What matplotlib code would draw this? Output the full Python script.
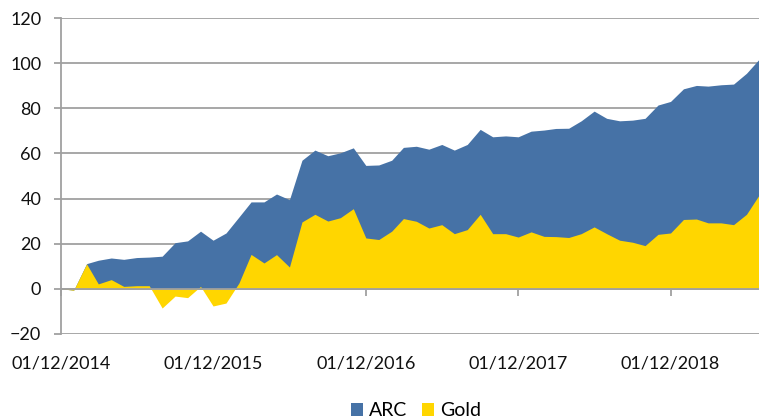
import matplotlib
matplotlib.use('Agg')
import matplotlib.pyplot as plt
import pandas as pd

# monthly series, Dec 2014 .. Jul 2019
months = pd.date_range('2014-12-01', periods=56, freq='MS')
arc = [0, -0.7, 11.1, 12.6, 13.6, 13.0, 13.8, 14.0, 14.4, 20.4, 21.2, 25.5,
       21.5, 24.7, 31.8, 38.5, 38.5, 42.0, 39.5, 57.0, 61.5, 59.0, 60.3, 62.5,
       54.7, 54.9, 57.0, 62.7, 63.2, 61.9, 64.0, 61.5, 64.0, 70.7, 67.4, 67.8,
       67.4, 69.9, 70.4, 71.1, 71.2, 74.5, 78.8, 75.6, 74.5, 74.8, 75.6, 81.5,
       83.1, 88.7, 90.2, 89.9, 90.5, 90.8, 95.6, 101.8]
gold = [0, -0.7, 11.0, 2.1, 4.0, 1.0, 1.3, 1.3, -8.6, -3.3, -4.0, 1.0,
        -7.7, -6.4, 2.5, 15.2, 11.4, 15.1, 9.6, 29.6, 33.0, 30.0, 31.5, 35.5,
        22.5, 21.8, 25.5, 31.1, 29.9, 26.9, 28.4, 24.4, 26.2, 33.0, 24.4, 24.4,
        22.9, 25.2, 23.2, 23.1, 22.7, 24.4, 27.4, 24.4, 21.5, 20.6, 19.1, 24.1,
        24.7, 30.7, 30.9, 29.2, 29.2, 28.4, 33.0, 41.5]
tick_dates = pd.to_datetime(['2014-12-01', '2015-12-01', '2016-12-01',
                             '2017-12-01', '2018-12-01'])
tick_labels = ['01/12/2014', '01/12/2015', '01/12/2016', '01/12/2017', '01/12/2018']
y_ticks = [-20, 0, 20, 40, 60, 80, 100, 120]

blue = '#4672a6'
yellow = '#ffd600'
grey = '#a0a0a0'

plt.rcParams['font.family'] = ['Lato', 'DejaVu Sans']

fig = plt.figure(figsize=(7.59, 4.18), dpi=100)
ax = fig.add_axes([0.08, 0.2017, 0.92, 0.7545])

ax.fill_between(months, 0, arc, color=blue, linewidth=0, label='ARC', zorder=2)
ax.fill_between(months, 0, gold, color=yellow, linewidth=0, label='Gold', zorder=2)

ax.set_xlim(months[0], months[-1])
ax.set_ylim(-20, 120)
ax.set_yticks(y_ticks)
ax.yaxis.grid(True, color=grey, linewidth=1.3)
ax.set_axisbelow(True)

for s in ['top', 'right']:
    ax.spines[s].set_visible(False)
ax.spines['left'].set_color(grey)
ax.spines['left'].set_linewidth(1.3)
ax.spines['bottom'].set_position(('data', 0))
ax.spines['bottom'].set_color(grey)
ax.spines['bottom'].set_linewidth(1.3)
ax.spines['bottom'].set_zorder(3)

ax.set_xticks(tick_dates)
ax.set_xticklabels(tick_labels)
ax.tick_params(axis='x', direction='out', length=5, width=1.3, color=grey,
               pad=43, labelsize=13, labelcolor='#111111')
ax.tick_params(axis='y', direction='out', length=5, width=1.3, color=grey,
               pad=9, labelsize=13, labelcolor='#111111')

fig.legend(loc='center', bbox_to_anchor=(0.548, 0.017), ncol=2, frameon=False,
           fontsize=14, handlelength=0.6, handleheight=0.6,
           handletextpad=0.3, columnspacing=0.8)

fig.savefig('out.png', dpi=100)
